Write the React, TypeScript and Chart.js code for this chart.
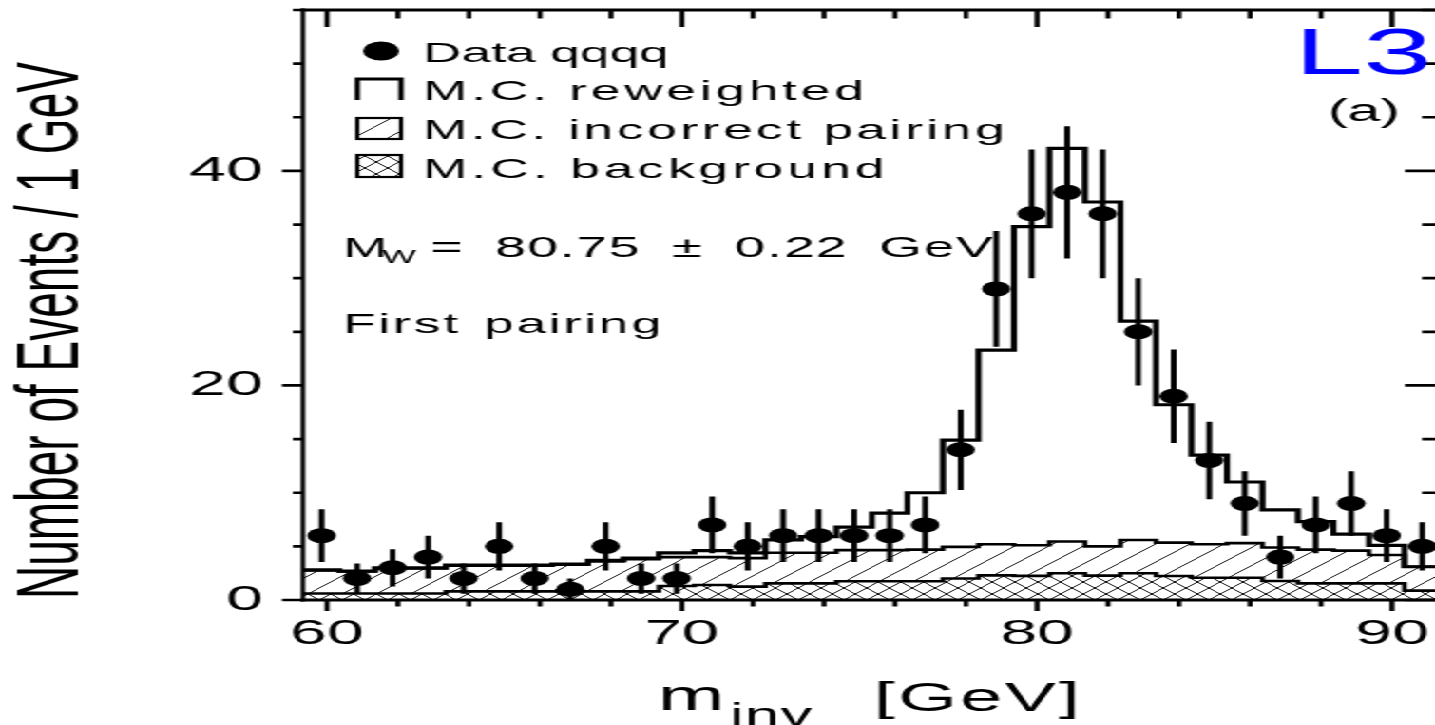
import React, { useEffect, useRef } from 'react';
import { Chart, registerables } from 'chart.js';

Chart.register(...registerables);

// ---------------- data ----------------
const massBins = [
  59.85, 60.85, 61.85, 62.85, 63.85, 64.85, 65.85, 66.85, 67.85, 68.85, 69.85,
  70.85, 71.85, 72.85, 73.85, 74.85, 75.85, 76.85, 77.85, 78.85, 79.85, 80.85,
  81.85, 82.85, 83.85, 84.85, 85.85, 86.85, 87.85, 88.85, 89.85, 90.85,
];
const binWidth = 1;

const dataCounts = [
  6, 2, 3, 4, 2, 5, 2, 1, 5, 2, 2, 7, 5, 6, 6, 6, 6, 7, 14, 29, 36, 38, 36, 25,
  19, 13, 9, 4, 7, 9, 6, 5,
];
const dataErrors = [
  2.45, 1.41, 1.73, 2.0, 1.41, 2.24, 1.41, 1.0, 2.24, 1.41, 1.41, 2.65, 2.24,
  2.45, 2.45, 2.45, 2.45, 2.65, 3.74, 5.39, 6.0, 6.16, 6.0, 5.0, 4.36, 3.61, 3.0,
  2.0, 2.65, 3.0, 2.45, 2.24,
];
const mcReweighted = [
  2.8, 2.7, 3.0, 3.0, 3.25, 3.25, 3.25, 3.35, 3.7, 3.9, 4.4, 4.6, 4.4, 5.6, 5.9,
  6.8, 8.1, 10.0, 14.9, 23.3, 34.8, 42.1, 37.1, 26.0, 18.2, 13.5, 11.0, 8.4, 7.3,
  6.15, 5.1, 3.1,
];
// top of the hatched area (incorrect pairing stacked on background)
const mcIncorrectPairing = [
  2.75, 2.65, 2.95, 2.95, 3.2, 3.2, 3.2, 3.3, 3.6, 3.8, 4.0, 4.0, 3.9, 4.4, 4.4,
  4.65, 4.65, 4.7, 4.95, 5.2, 5.1, 5.45, 5.0, 5.6, 5.35, 5.2, 5.3, 4.9, 4.7, 4.6,
  4.2, 3.1,
];
const mcBackground = [
  0.6, 0.6, 0.6, 0.6, 0.8, 0.8, 0.8, 0.8, 0.8, 0.8, 1.3, 1.4, 1.25, 1.55, 1.55,
  1.75, 1.75, 1.75, 2.0, 2.3, 2.25, 2.5, 2.27, 2.5, 2.24, 2.08, 2.08, 1.77, 1.55,
  1.55, 1.55, 0.87,
];

const xTickLabels = [60, 70, 80, 90];
const xMinorTicks = [60, 62, 64, 66, 68, 70, 72, 74, 76, 78, 80, 82, 84, 86, 88, 90];
const yTickLabels = [0, 20, 40];
const yMinorTicks = [0, 5, 10, 15, 20, 25, 30, 35, 40, 45, 50, 55];

const legendLabels = ['Data qqqq', 'M.C. reweighted', 'M.C. incorrect pairing', 'M.C. background'];

// ---------------- layout ----------------
const W = 755;
const H = 725;
const SX = 1435 / W;
const FONT = '"Liberation Sans", Arial, Helvetica, sans-serif';

function makePattern(size: number, cross: boolean): CanvasPattern | string {
  const c = document.createElement('canvas');
  c.width = size;
  c.height = size;
  const g = c.getContext('2d');
  if (!g) return 'rgba(0,0,0,0)';
  g.strokeStyle = '#000';
  g.lineWidth = 0.9;
  g.beginPath();
  g.moveTo(0, size);
  g.lineTo(size, 0);
  g.moveTo(-size / 2, size / 2);
  g.lineTo(size / 2, -size / 2);
  g.moveTo(size / 2, (3 * size) / 2);
  g.lineTo((3 * size) / 2, size / 2);
  if (cross) {
    g.moveTo(0, 0);
    g.lineTo(size, size);
    g.moveTo(-size / 2, size / 2);
    g.lineTo(size / 2, (3 * size) / 2);
    g.moveTo(size / 2, -size / 2);
    g.lineTo((3 * size) / 2, size / 2);
  }
  g.stroke();
  return g.createPattern(c, 'repeat') || 'rgba(0,0,0,0)';
}

// bin low edges with the bin content; last point closes the final bin
const stepPoints = (vals: number[]) => {
  const pts = massBins.map((c, i) => ({ x: c - binWidth / 2, y: vals[i] }));
  pts.push({ x: massBins[massBins.length - 1] + binWidth / 2, y: vals[vals.length - 1] });
  return pts;
};

export default function App() {
  const ref = useRef<HTMLCanvasElement>(null);

  useEffect(() => {
    document.body.style.margin = '0';
    document.body.style.overflow = 'hidden';
    const canvas = ref.current;
    if (!canvas) return;

    const diag = makePattern(18, false);
    const cross = makePattern(12, true);

    const text = (
      ctx: CanvasRenderingContext2D,
      s: string,
      x: number,
      y: number,
      size: number,
      ls = 0,
      ws = 0,
      color = '#000'
    ) => {
      ctx.font = `${size}px ${FONT}`;
      (ctx as any).letterSpacing = `${ls}px`;
      (ctx as any).wordSpacing = `${ws}px`;
      ctx.fillStyle = color;
      ctx.textAlign = 'left';
      ctx.textBaseline = 'alphabetic';
      ctx.fillText(s, x, y);
      (ctx as any).letterSpacing = '0px';
      (ctx as any).wordSpacing = '0px';
    };

    const overlay = {
      id: 'overlay',
      afterDatasetsDraw(chart: any) {
        const ctx: CanvasRenderingContext2D = chart.ctx;
        const xs = chart.scales.x;
        const ys = chart.scales.y;
        ctx.save();
        ctx.strokeStyle = '#000';
        ctx.lineWidth = 3;
        ctx.beginPath();
        massBins.forEach((c, i) => {
          const px = xs.getPixelForValue(c);
          ctx.moveTo(px, ys.getPixelForValue(dataCounts[i] - dataErrors[i]));
          ctx.lineTo(px, ys.getPixelForValue(dataCounts[i] + dataErrors[i]));
        });
        ctx.stroke();
        ctx.restore();
      },
      afterDraw(chart: any) {
        const ctx: CanvasRenderingContext2D = chart.ctx;
        const { left, right, top, bottom } = chart.chartArea;
        const xs = chart.scales.x;
        const ys = chart.scales.y;
        ctx.save();
        ctx.strokeStyle = '#000';
        ctx.fillStyle = '#000';
        ctx.lineCap = 'butt';

        // frame
        ctx.lineWidth = 3.2;
        ctx.beginPath();
        ctx.moveTo(left - 1.2, top);
        ctx.lineTo(right, top);
        ctx.moveTo(left - 1.2, bottom);
        ctx.lineTo(right, bottom);
        ctx.stroke();
        ctx.lineWidth = 2.3;
        ctx.beginPath();
        ctx.moveTo(left, top - 1.6);
        ctx.lineTo(left, bottom + 1.6);
        ctx.stroke();

        // x ticks
        ctx.lineWidth = 2.6;
        ctx.beginPath();
        for (const v of xMinorTicks) {
          const px = xs.getPixelForValue(v);
          const major = xTickLabels.includes(v);
          ctx.moveTo(px, bottom);
          ctx.lineTo(px, bottom + (major ? 11 : 6.5));
          ctx.moveTo(px, top);
          ctx.lineTo(px, top + (major ? 17 : 8.5));
        }
        ctx.stroke();

        // y ticks
        ctx.lineWidth = 2.7;
        ctx.beginPath();
        for (const v of yMinorTicks) {
          const py = ys.getPixelForValue(v);
          const major = yTickLabels.includes(v);
          ctx.moveTo(left - (major ? 11 : 5.3), py);
          ctx.lineTo(left, py);
          ctx.moveTo(right - (major ? 15.8 : 6.8), py);
          ctx.lineTo(right, py);
        }
        ctx.stroke();

        // legend
        ctx.beginPath();
        ctx.arc(200.5, 51, 9.5, 0, Math.PI * 2);
        ctx.fill();
        text(ctx, legendLabels[0], 222.6, 62, 28);

        ctx.lineWidth = 2.8;
        ctx.beginPath();
        ctx.moveTo(188, 100);
        ctx.lineTo(188, 79);
        ctx.lineTo(211, 79);
        ctx.lineTo(211, 100);
        ctx.stroke();
        text(ctx, legendLabels[1], 222.6, 100, 28, 2);

        ctx.fillStyle = diag as any;
        ctx.fillRect(188, 118, 23, 21);
        ctx.lineWidth = 2.2;
        ctx.strokeRect(188, 118, 23, 21);
        text(ctx, legendLabels[2], 222.6, 139, 28, 1.9);

        ctx.fillStyle = cross as any;
        ctx.fillRect(188, 155, 23, 22);
        ctx.strokeRect(188, 155, 23, 22);
        text(ctx, legendLabels[3], 222.6, 178, 28, 2.1);

        // annotations
        text(ctx, 'M', 180.5, 257, 28);
        text(ctx, 'W', 201, 263, 19);
        text(ctx, '= 80.75 \u00b1 0.22 GeV', 226.5, 257, 29, 0.8, 7.5);
        text(ctx, 'First pairing', 180.5, 333, 28, 1.5, 3);
        text(ctx, 'L3', 681, 74, 65, 0, 0, '#0000ff');
        text(ctx, '(a)', 698.7, 121, 31);

        // axis titles
        text(ctx, 'm', 346.2, 710, 42);
        text(ctx, 'inv', 384, 726, 33, 0.5);
        text(ctx, '[GeV]', 459.8, 711, 40, 1.5);

        ctx.save();
        ctx.translate(41, 599);
        ctx.rotate(-Math.PI / 2);
        text(ctx, 'Number of Events / 1 GeV', 0, 0, 46);
        ctx.restore();

        ctx.restore();
      },
    };

    const tickFont = { family: FONT, size: 35 };
    const noPad = (s: any) => {
      s.paddingTop = 0;
      s.paddingBottom = 0;
      s.paddingLeft = 0;
      s.paddingRight = 0;
    };

    const chart = new Chart(canvas, {
      type: 'line',
      data: {
        datasets: [
          {
            label: legendLabels[0],
            data: massBins.map((c, i) => ({ x: c, y: dataCounts[i] })),
            showLine: false,
            pointRadius: 7.5,
            pointHoverRadius: 7.5,
            pointBackgroundColor: '#000',
            pointBorderColor: '#000',
            pointBorderWidth: 0,
          },
          {
            label: legendLabels[1],
            data: stepPoints(mcReweighted),
            stepped: 'before',
            borderColor: '#000',
            borderWidth: 3.2,
            pointRadius: 0,
            fill: false,
          },
          {
            label: legendLabels[2],
            data: stepPoints(mcIncorrectPairing),
            stepped: 'before',
            borderColor: '#000',
            borderWidth: 2.6,
            pointRadius: 0,
            fill: '+1',
            backgroundColor: diag as any,
          },
          {
            label: legendLabels[3],
            data: stepPoints(mcBackground),
            stepped: 'before',
            borderColor: '#000',
            borderWidth: 2.6,
            pointRadius: 0,
            fill: 'origin',
            backgroundColor: cross as any,
          },
        ] as any,
      },
      options: {
        animation: false,
        responsive: false,
        maintainAspectRatio: false,
        events: [],
        layout: { autoPadding: false, padding: { top: 10, right: 0, left: 0, bottom: 0 } },
        plugins: {
          legend: { display: false },
          tooltip: { enabled: false },
          title: { display: false },
        },
        scales: {
          x: {
            type: 'linear',
            min: 59.324,
            max: 91.21,
            grid: { display: false, drawTicks: false },
            border: { display: false },
            ticks: { font: tickFont, color: '#000', padding: 13.5, autoSkip: false, maxRotation: 0 },
            afterBuildTicks: (s: any) => {
              s.ticks = xTickLabels.map((v) => ({ value: v }));
            },
            afterFit: (s: any) => {
              s.height = 125;
              noPad(s);
            },
          },
          y: {
            type: 'linear',
            min: 0,
            max: 55,
            grid: { display: false, drawTicks: false },
            border: { display: false },
            ticks: { font: tickFont, color: '#000', padding: 21, autoSkip: false },
            afterBuildTicks: (s: any) => {
              s.ticks = yTickLabels.map((v) => ({ value: v }));
            },
            afterFit: (s: any) => {
              s.width = 159.4;
              noPad(s);
            },
          },
        },
      } as any,
      plugins: [overlay as any],
    });

    return () => chart.destroy();
  }, []);

  return (
    <div
      style={{
        position: 'absolute',
        left: 0,
        top: 0,
        width: W,
        height: H,
        transform: `scaleX(${SX})`,
        transformOrigin: '0 0',
        background: '#fff',
      }}
    >
      <canvas ref={ref} width={W} height={H} style={{ display: 'block', width: W, height: H }} />
    </div>
  );
}
